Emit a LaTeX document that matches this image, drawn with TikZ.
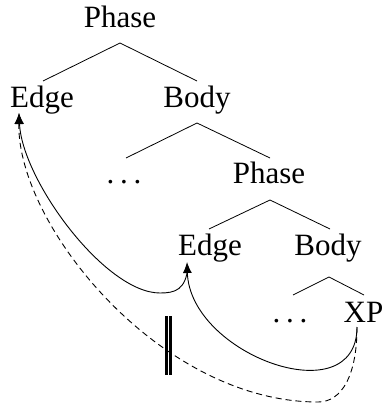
\documentclass[tikz,border=0pt]{standalone}
\usepackage{fontspec}
\setmainfont{Liberation Serif}
\usetikzlibrary{arrows.meta}
\newcommand{\wdots}{.\kern5.75pt.\kern5.75pt.}
\begin{document}
\begin{tikzpicture}[x=1pt,y=-1pt,
  lbl/.style={anchor=base,inner sep=0pt,font=\fontsize{31}{36}\selectfont},
  branch/.style={line width=0.8pt},
  move/.style={line width=0.9pt,-{Latex[length=11pt,width=9pt]}},
  movedash/.style={line width=0.9pt,dash pattern=on 6pt off 4pt,-{Latex[length=11pt,width=9pt]}},
  bar/.style={line width=2.6pt}]
\useasboundingbox (0,0) rectangle (383,406);
% labels
\node[lbl] (p1) at (120,27.5) {Phase};
\node[lbl] (e1) at (42,108) {Edge};
\node[lbl] (b1) at (197,108) {Body};
\node[lbl] (d1) at (124,183) {\wdots};
\node[lbl] (p2) at (269,183) {Phase};
\node[lbl] (e2) at (210,255) {Edge};
\node[lbl] (b2) at (328,255) {Body};
\node[lbl] (d2) at (290,322) {\wdots};
\node[lbl] (xp) at (363.5,322) {XP};
% branch points
\coordinate (p1top) at (120,43);
\coordinate (e1bot) at (43,81);
\coordinate (b1bot) at (197,81);
\coordinate (b1top) at (197,123);
\coordinate (d1bot) at (126,158);
\coordinate (p2bot) at (270,158);
\coordinate (p2top) at (270,200);
\coordinate (e2bot) at (209,229);
\coordinate (b2bot) at (330,229);
\coordinate (b2top) at (329,277);
\coordinate (d2bot) at (293,295);
\coordinate (xpbot) at (364,295);
\draw[branch] (e1bot) -- (p1top) -- (b1bot);
\draw[branch] (d1bot) -- (b1top) -- (p2bot);
\draw[branch] (e2bot) -- (p2top) -- (b2bot);
\draw[branch] (d2bot) -- (b2top) -- (xpbot);
% movement endpoints
\coordinate (xpfoot) at (357,327);
\coordinate (e2tip) at (187,262);
\coordinate (e2foot) at (188,266);
\coordinate (e1tip) at (19,113);
\coordinate (lowA) at (160,293);
\coordinate (lowD) at (318,402);
% arrows
\draw[move] (xpfoot) .. controls (357,415) and (190,355) .. (e2tip);
\draw[move] (e2foot) .. controls (186,290) and (175,293) .. (lowA)
  .. controls (105,293) and (22,180) .. (e1tip);
\draw[movedash] (xpfoot) .. controls (357,375) and (342,402) .. (lowD)
  .. controls (160,402) and (17,225) .. (e1tip);
% double bar
\draw[bar] (166.5,316) -- (166.5,375);
\draw[bar] (170.5,316) -- (170.5,375);
\end{tikzpicture}
\end{document}
